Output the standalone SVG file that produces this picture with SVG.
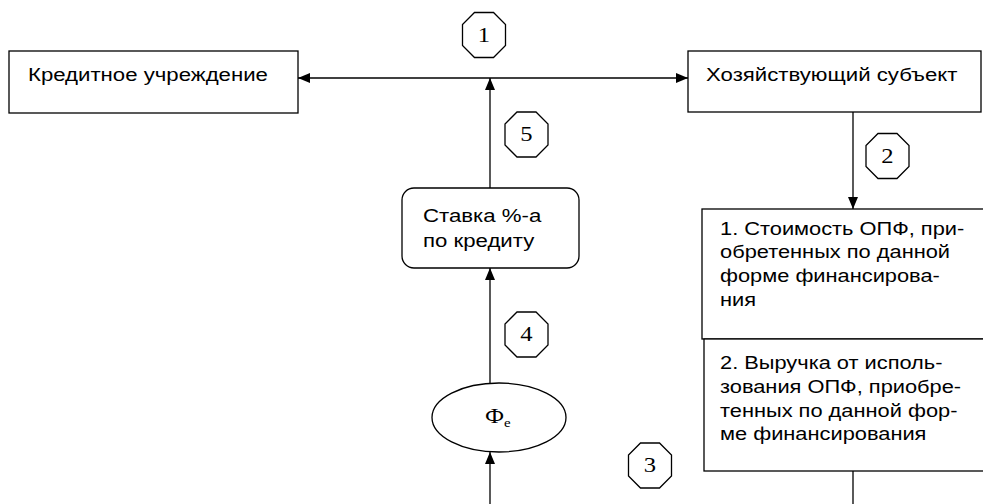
<svg xmlns="http://www.w3.org/2000/svg" width="983" height="504" viewBox="0 0 983 504">
<style>
.box{fill:#fff;stroke:#000;stroke-width:1.3}
.t{font-family:"Liberation Sans",Arial,sans-serif;font-size:18.5px;fill:#000}
.n{font-family:"Liberation Serif","Times New Roman",serif;font-size:20.5px;fill:#000;text-anchor:middle}
.ln{stroke:#000;stroke-width:1.3;fill:none}
</style>
<defs>
<marker id="ah" viewBox="0 0 12 10" refX="12" refY="5" markerWidth="12" markerHeight="10" markerUnits="userSpaceOnUse" orient="auto">
<path d="M0,0 L12,5 L0,10 Z" fill="#000"/>
</marker>
<polygon id="oct" points="-9.5,-22.5 9.5,-22.5 21.5,-10.5 21.5,10.5 9.5,22.5 -9.5,22.5 -21.5,10.5 -21.5,-10.5" fill="#fff" stroke="#000" stroke-width="1.3"/>
</defs>
<rect width="983" height="504" fill="#fff"/>
<g id="connectors">
<line class="ln" x1="490" y1="78" x2="298" y2="78" marker-end="url(#ah)"/>
<line class="ln" x1="490" y1="78" x2="688" y2="78" marker-end="url(#ah)"/>
<line class="ln" x1="490" y1="188" x2="490" y2="78" marker-end="url(#ah)"/>
<line class="ln" x1="490" y1="383" x2="490" y2="268" marker-end="url(#ah)"/>
<line class="ln" x1="490" y1="504" x2="490" y2="452" marker-end="url(#ah)"/>
<line class="ln" x1="853" y1="112" x2="853" y2="209" marker-end="url(#ah)"/>
<line class="ln" x1="853" y1="471" x2="853" y2="504"/>
</g>
<g id="credit">
<rect class="box" x="9" y="51" width="289" height="62"/>
<g transform="translate(28,0) scale(1.2,1)"><text class="t" x="0" y="81">Кредитное учреждение</text></g>
</g>
<g id="subject">
<rect class="box" x="688" y="51" width="293" height="61"/>
<g transform="translate(706,0) scale(1.2,1)"><text class="t" x="0" y="81">Хозяйствующий субъект</text></g>
</g>
<g id="cost">
<rect class="box" x="702" y="209" width="290" height="130"/>
<g transform="translate(720,0) scale(1.18,1)">
<text class="t" x="0" y="235">1. Стоимость ОПФ, при-</text>
<text class="t" x="0" y="258">обретенных по данной</text>
<text class="t" x="0" y="282">форме финансирова-</text>
<text class="t" x="0" y="306">ния</text>
</g>
</g>
<g id="revenue">
<rect class="box" x="704" y="339" width="290" height="132"/>
<g transform="translate(720,0) scale(1.18,1)">
<text class="t" x="0" y="369">2. Выручка от исполь-</text>
<text class="t" x="0" y="393">зования ОПФ, приобре-</text>
<text class="t" x="0" y="417">тенных по данной фор-</text>
<text class="t" x="0" y="440">ме финансирования</text>
</g>
</g>
<g id="rate">
<rect class="box" x="402" y="188" width="177" height="80" rx="12"/>
<g transform="translate(423,0) scale(1.2,1)">
<text class="t" x="0" y="222">Ставка %-а</text>
<text class="t" x="0" y="247">по кредиту</text>
</g>
</g>
<g id="phi">
<ellipse class="box" cx="499" cy="417.5" rx="67" ry="34.5"/>
<g transform="translate(485,0) scale(1.15,1)"><text x="0" y="423" style="font-family:'Liberation Serif','Times New Roman',serif;font-size:21px">Ф<tspan dy="4" font-size="13">е</tspan></text></g>
</g>
<g id="n1"><use href="#oct" x="484" y="35"/><g transform="translate(484,0) scale(1.2,1)"><text class="n" x="0" y="42">1</text></g></g>
<g id="n2"><use href="#oct" x="887.5" y="156"/><g transform="translate(887.5,0) scale(1.2,1)"><text class="n" x="0" y="163">2</text></g></g>
<g id="n3"><use href="#oct" x="650" y="465.5"/><g transform="translate(650,0) scale(1.2,1)"><text class="n" x="0" y="472.5">3</text></g></g>
<g id="n4"><use href="#oct" x="526.5" y="334.5"/><g transform="translate(526.5,0) scale(1.2,1)"><text class="n" x="0" y="341.5">4</text></g></g>
<g id="n5"><use href="#oct" x="526.5" y="134.5"/><g transform="translate(526.5,0) scale(1.2,1)"><text class="n" x="0" y="141.5">5</text></g></g>
</svg>
